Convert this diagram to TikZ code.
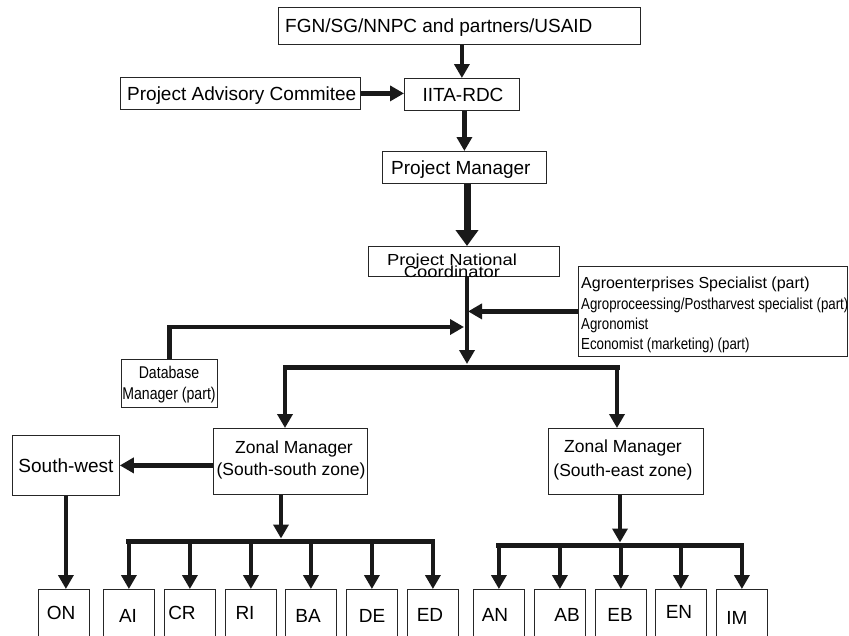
\documentclass[tikz,border=0pt]{standalone}
\usepackage{fontspec}
\setmainfont{Liberation Sans}
\newfontfamily\narrowf[FakeStretch=0.83]{Liberation Sans}
\newfontfamily\widef[FakeStretch=1.15]{Liberation Sans}
\usetikzlibrary{arrows.meta}
\begin{document}
\begin{tikzpicture}[x=1pt,y=-1pt,
  box/.style={draw=black!85,line width=0.8pt,inner sep=0pt,anchor=north west},
  lbl/.style={inner sep=0pt,anchor=base,font=\fontsize{19}{22}\selectfont},
  lblw/.style={lbl,anchor=base west},
  zlbl/.style={lbl,font=\fontsize{17.5}{20}\selectfont},
  nar/.style={inner sep=0pt,anchor=base west,font=\narrowf\fontsize{16}{19}\selectfont},
  dbl/.style={inner sep=0pt,anchor=base,font=\narrowf\fontsize{17}{20}\selectfont},
  widel/.style={inner sep=0pt,anchor=base,font=\widef\fontsize{16}{10}\selectfont},
  arr/.style={draw=black!90,line width=4.5pt,-{Triangle[length=14pt,width=15pt]}},
  bigarr/.style={draw=black!90,line width=7pt,-{Triangle[length=16pt,width=22pt]}},
  bar/.style={draw=black!90,line width=5pt,line cap=rect},
]
\useasboundingbox (0,0) rectangle (849,635);
\clip (0,0) rectangle (849,635);

% boxes and texts
\node[box,minimum width=362,minimum height=37] (fgn) at (278,7) {};
\node[lblw] (fgnt) at (285,32) {FGN/SG/NNPC and partners/USAID};
\node[box,minimum width=240,minimum height=32] (pac) at (120,77) {};
\node[lblw] (pact) at (127,100) {Project Advisory Commitee};
\node[box,minimum width=115,minimum height=32] (iita) at (404,78) {};
\node[lbl] (iitat) at (463,101) {IITA-RDC};
\node[box,minimum width=164,minimum height=32] (pm) at (382,151) {};
\node[lblw] (pmt) at (391,174) {Project Manager};
\node[box,minimum width=191,minimum height=30] (pnc) at (368,246) {};
\node[widel] (pnct1) at (452,265) {Project National};
\node[widel] (pnct2) at (452,277) {Coordinator};

\node[box,minimum width=269,minimum height=90] (agro) at (578,266) {};
\node[lblw,font=\fontsize{16}{19}\selectfont] (ag1) at (581,288) {Agroenterprises Specialist (part)};
\node[nar] (ag2) at (581,309) {Agroproceessing/Postharvest specialist (part)};
\node[nar] (ag3) at (581,329) {Agronomist};
\node[nar] (ag4) at (581,349) {Economist (marketing) (part)};

\node[box,minimum width=96,minimum height=48] (db) at (121,359) {};
\node[dbl] (dbt1) at (169,378) {Database};
\node[dbl] (dbt2) at (169,399) {Manager (part)};

\node[box,minimum width=154,minimum height=66] (ssz) at (213,428) {};
\node[zlbl] (ssz1) at (294,453) {Zonal Manager};
\node[zlbl] (ssz2) at (291,475) {(South-south zone)};
\node[box,minimum width=155,minimum height=66] (sez) at (548,428) {};
\node[zlbl] (sez1) at (623,452) {Zonal Manager};
\node[zlbl] (sez2) at (623,476) {(South-east zone)};
\node[box,minimum width=107,minimum height=60] (sw) at (12,435) {};
\node[lbl] (swt) at (66,472) {South-west};

\foreach \n/\x/\t/\tx/\ty in {on/38/ON/61/619, ai/103/AI/128/622, cr/164/CR/182/619,
  ri/225/RI/245/619, ba/285/BA/308/622, de/346/DE/372/622, ed/407/ED/430/621,
  an/473/AN/495/621, ab/534/AB/567/621, eb/595/EB/620/621, en/655/EN/679/618,
  im/716/IM/737/624}
{
  \node[box,minimum width=51,minimum height=60] (\n) at (\x,589) {};
  \node[lbl] (\n-t) at (\tx,\ty) {\t};
}

% junction coordinates
\coordinate (hub) at (467,367);
\coordinate (hubtop) at (467,364);
\coordinate (dbend) at (464,327);
\coordinate (bl) at (285,367);
\coordinate (br) at (617,367);
\coordinate (sshub) at (281,541);
\coordinate (sshubtop) at (281,538.5);
\coordinate (sehub) at (620,545);
\coordinate (sehubtop) at (620,542.5);

% connectors
\draw[arr] (fgn.south -| iita) -- (iita.north);
\draw[arr] (pac.east) -- (pac.east -| iita.west);
\draw[arr] (iita.south -| pm) -- (pm.north);
\draw[bigarr] (pm.south -| hub) -- (pnc.north -| hub);
\draw[arr] (pnc.south -| hub) -- (hubtop);
\draw[arr,shorten >=1pt] (agro.west) -- (agro.west -| hub);
\draw[arr] (db.north) |- (dbend);
\draw[bar] (bl) -- (br);
\draw[arr] (bl) -- (bl |- ssz.north);
\draw[arr] (br) -- (br |- sez.north);
\draw[arr] (ssz.west |- sw) -- (sw.east);
\draw[arr] (sw.south) -- (sw.south |- on.north);

\draw[arr] (ssz.south -| sshub) -- (sshubtop);
\draw[bar] (ai.north |- sshub) -- (ed.north |- sshub);
\foreach \n in {ai,cr,ri,ba,de,ed} \draw[arr] (\n.north |- sshub) -- (\n.north);

\draw[arr] (sez.south -| sehub) -- (sehubtop);
\draw[bar] (an.north |- sehub) -- (im.north |- sehub);
\foreach \n in {an,ab,eb,en,im} \draw[arr] (\n.north |- sehub) -- (\n.north);
\end{tikzpicture}
\end{document}
